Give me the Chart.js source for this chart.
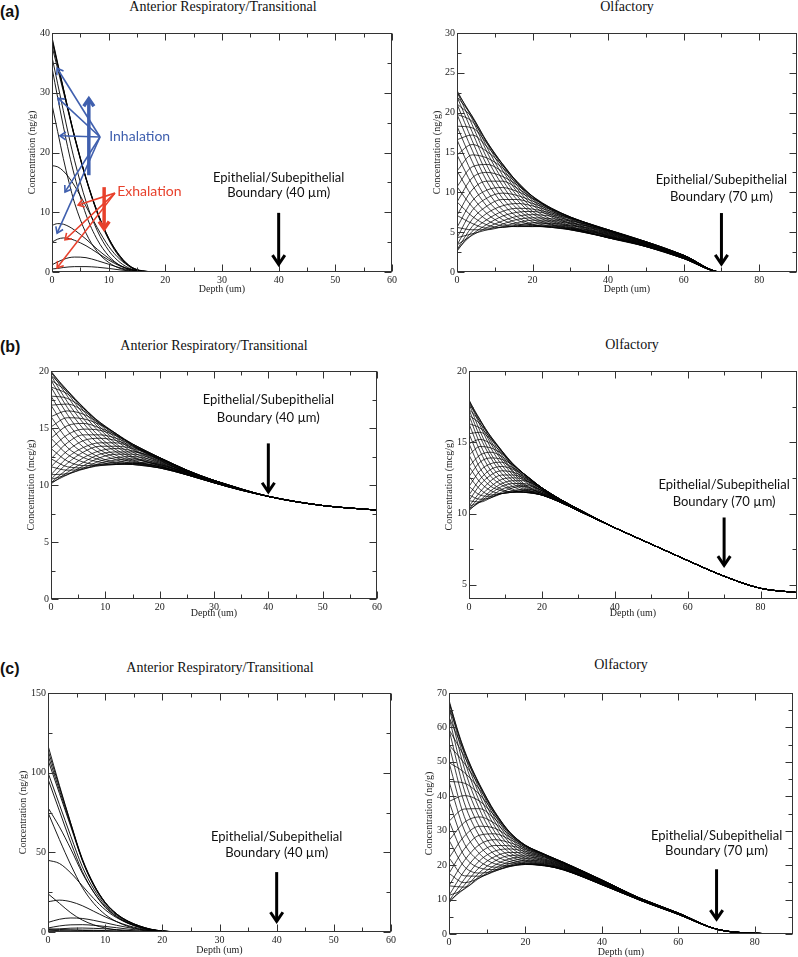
<!DOCTYPE html>
<html>
<head>
<meta charset="utf-8">
<script src="https://cdn.jsdelivr.net/npm/chart.js@4.4.1/dist/chart.umd.min.js"></script>
<style>
  body { margin: 0; width: 798px; height: 957px; overflow: hidden; background: #fff; position: relative; }
  canvas { position: absolute; }
  .ttl { position: absolute; font: 14px "Liberation Serif", serif; color: #111; white-space: nowrap; transform: translate(-50%, -50%); }
  .lbl { position: absolute; left: 0; font: bold 16px "Liberation Sans", Arial, sans-serif; color: #111; transform: translateY(-50%); }
</style>
</head>
<body>
<div class="lbl" style="top:12px">(a)</div>
<div class="lbl" style="top:347px">(b)</div>
<div class="lbl" style="top:669px">(c)</div>
<div class="ttl" style="left:223px;top:7px">Anterior Respiratory/Transitional</div>
<div class="ttl" style="left:627px;top:7px">Olfactory</div>
<div class="ttl" style="left:214px;top:346px">Anterior Respiratory/Transitional</div>
<div class="ttl" style="left:632px;top:345px">Olfactory</div>
<div class="ttl" style="left:220px;top:668px">Anterior Respiratory/Transitional</div>
<div class="ttl" style="left:621px;top:665px">Olfactory</div>
<script>
// depth grids (um) and concentration profiles
const depthRespA = [0, 1, 2, 3, 4, 6, 8, 10, 12, 14, 16, 20, 60];
const concRespA = [
  [39.3, 35.0, 30.8, 26.6, 22.6, 15.6, 9.8, 5.4, 2.4, 0.7, 0.1, 0, 0],
  [38.6, 34.6, 30.6, 26.5, 22.6, 15.7, 10.0, 5.6, 2.6, 0.8, 0.15, 0, 0],
  [37.8, 34.0, 30.2, 26.3, 22.4, 15.6, 10.0, 5.6, 2.6, 0.8, 0.15, 0, 0],
  [39.0, 34.8, 30.7, 26.6, 22.7, 15.8, 10.1, 5.7, 2.7, 0.85, 0.15, 0, 0],
  [36.0, 31.5, 27.0, 22.6, 18.6, 11.8, 6.9, 3.6, 1.6, 0.5, 0.1, 0, 0],
  [34.2, 29.2, 24.4, 19.9, 16.0, 9.6, 5.4, 2.7, 1.1, 0.35, 0.05, 0, 0],
  [28.0, 23.5, 19.0, 15.0, 11.5, 6.5, 3.4, 1.6, 0.6, 0.2, 0, 0, 0],
  [17.8, 17.6, 16.9, 15.8, 14.4, 11.0, 7.4, 4.3, 2.1, 0.8, 0.2, 0, 0],
  [7.8, 8.1, 8.0, 7.6, 7.0, 5.5, 3.8, 2.3, 1.1, 0.4, 0.1, 0, 0],
  [5.0, 5.5, 5.7, 5.6, 5.3, 4.4, 3.2, 2.0, 1.0, 0.4, 0.1, 0, 0],
  [1.2, 1.7, 2.1, 2.4, 2.5, 2.4, 1.9, 1.3, 0.7, 0.3, 0.1, 0, 0],
  [0.5, 0.6, 0.75, 0.85, 0.9, 0.9, 0.8, 0.6, 0.35, 0.15, 0.05, 0, 0]
];

const depthOlfA = [0, 4, 8, 12, 16, 20, 25, 30, 40, 50, 60, 70, 80, 90];
const concOlfA = [
  [22.8, 19.2, 15.0, 11.6, 9.0, 7.3, 6.2, 5.5, 4.3, 3.4, 2.0, 0, 0, 0],
  [22.6, 19.5, 15.6, 12.2, 9.5, 7.6, 6.4, 5.6, 4.3, 3.3, 1.9, 0, 0, 0],
  [22.0, 19.6, 16.1, 12.8, 10.0, 8.0, 6.6, 5.7, 4.3, 3.3, 1.9, 0, 0, 0],
  [21.1, 19.4, 16.3, 13.2, 10.4, 8.4, 6.9, 5.8, 4.3, 3.2, 1.9, 0, 0, 0],
  [19.8, 18.9, 16.3, 13.5, 10.8, 8.7, 7.1, 6.0, 4.4, 3.2, 1.8, 0, 0, 0],
  [18.3, 18.1, 16.1, 13.6, 11.1, 9.0, 7.3, 6.1, 4.5, 3.2, 1.8, 0, 0, 0],
  [16.6, 17.2, 15.7, 13.6, 11.2, 9.2, 7.5, 6.3, 4.5, 3.2, 1.8, 0, 0, 0],
  [14.7, 16.0, 15.1, 13.4, 11.3, 9.4, 7.7, 6.4, 4.6, 3.2, 1.7, 0, 0, 0],
  [12.7, 14.7, 14.3, 13.1, 11.3, 9.5, 7.8, 6.6, 4.7, 3.2, 1.7, 0, 0, 0],
  [10.7, 13.2, 13.5, 12.6, 11.1, 9.5, 7.9, 6.7, 4.8, 3.3, 1.7, 0, 0, 0],
  [8.8, 11.8, 12.5, 12.0, 10.9, 9.5, 8.0, 6.8, 4.9, 3.3, 1.7, 0, 0, 0],
  [7.1, 10.3, 11.4, 11.4, 10.5, 9.3, 8.0, 6.9, 5.0, 3.4, 1.7, 0, 0, 0],
  [5.6, 8.9, 10.3, 10.6, 10.1, 9.2, 8.0, 6.9, 5.1, 3.4, 1.7, 0, 0, 0],
  [4.3, 7.7, 9.3, 9.9, 9.6, 8.9, 7.9, 6.9, 5.2, 3.5, 1.7, 0, 0, 0],
  [3.4, 6.6, 8.3, 9.1, 9.1, 8.6, 7.8, 6.9, 5.2, 3.5, 1.8, 0, 0, 0],
  [2.8, 5.7, 7.4, 8.3, 8.6, 8.3, 7.6, 6.8, 5.3, 3.6, 1.8, 0, 0, 0],
  [2.6, 5.1, 6.6, 7.6, 8.0, 7.9, 7.4, 6.8, 5.3, 3.7, 1.8, 0, 0, 0],
  [2.8, 4.7, 6.0, 7.0, 7.5, 7.6, 7.2, 6.7, 5.3, 3.7, 1.9, 0, 0, 0],
  [3.4, 4.6, 5.6, 6.4, 7.0, 7.2, 7.0, 6.5, 5.3, 3.7, 1.9, 0, 0, 0],
  [4.3, 4.8, 5.3, 6.0, 6.6, 6.8, 6.7, 6.4, 5.3, 3.8, 2.0, 0, 0, 0],
  [5.6, 5.3, 5.3, 5.7, 6.2, 6.5, 6.5, 6.2, 5.2, 3.8, 2.0, 0, 0, 0],
  [7.1, 6.1, 5.5, 5.6, 5.9, 6.2, 6.3, 6.1, 5.2, 3.8, 2.0, 0, 0, 0],
  [8.8, 7.0, 5.9, 5.6, 5.8, 6.0, 6.1, 5.9, 5.1, 3.8, 2.1, 0, 0, 0],
  [10.7, 8.2, 6.5, 5.8, 5.7, 5.8, 5.9, 5.8, 5.0, 3.8, 2.1, 0, 0, 0],
  [12.7, 9.5, 7.3, 6.1, 5.7, 5.7, 5.8, 5.6, 4.9, 3.8, 2.1, 0, 0, 0],
  [14.7, 11.0, 8.2, 6.6, 5.9, 5.7, 5.7, 5.5, 4.8, 3.7, 2.1, 0, 0, 0],
  [16.6, 12.4, 9.1, 7.2, 6.1, 5.8, 5.6, 5.4, 4.7, 3.7, 2.1, 0, 0, 0],
  [18.3, 13.9, 10.2, 7.8, 6.5, 5.9, 5.6, 5.4, 4.6, 3.6, 2.1, 0, 0, 0],
  [19.8, 15.3, 11.3, 8.6, 6.9, 6.0, 5.6, 5.3, 4.5, 3.6, 2.1, 0, 0, 0],
  [21.1, 16.5, 12.3, 9.3, 7.4, 6.3, 5.7, 5.3, 4.4, 3.5, 2.1, 0, 0, 0],
  [22.0, 17.6, 13.3, 10.1, 7.9, 6.6, 5.9, 5.3, 4.4, 3.5, 2.0, 0, 0, 0],
  [22.6, 18.5, 14.2, 10.9, 8.4, 6.9, 6.0, 5.4, 4.3, 3.4, 2.0, 0, 0, 0]
];

const depthRespB = [0, 3, 6, 9, 12, 15, 20, 25, 30, 40, 50, 60];
const concRespB = [
  [20.0, 18.1, 16.2, 14.6, 13.4, 12.5, 11.7, 10.9, 10.2, 9.0, 8.2, 7.8],
  [19.9, 18.3, 16.5, 14.9, 13.6, 12.7, 11.8, 11.0, 10.2, 9.0, 8.2, 7.8],
  [19.6, 18.3, 16.7, 15.1, 13.9, 12.9, 11.9, 11.0, 10.2, 9.0, 8.2, 7.8],
  [19.2, 18.2, 16.8, 15.3, 14.1, 13.1, 12.0, 11.0, 10.2, 9.0, 8.2, 7.8],
  [18.6, 18.0, 16.8, 15.4, 14.3, 13.2, 12.1, 11.1, 10.2, 9.0, 8.2, 7.8],
  [17.8, 17.6, 16.7, 15.5, 14.4, 13.4, 12.2, 11.1, 10.2, 9.0, 8.2, 7.8],
  [17.0, 17.1, 16.5, 15.5, 14.5, 13.5, 12.2, 11.1, 10.3, 9.0, 8.2, 7.8],
  [16.0, 16.5, 16.2, 15.4, 14.5, 13.5, 12.3, 11.2, 10.3, 9.0, 8.2, 7.8],
  [15.1, 15.9, 15.8, 15.3, 14.5, 13.6, 12.3, 11.2, 10.3, 9.0, 8.2, 7.8],
  [14.1, 15.2, 15.4, 15.0, 14.4, 13.6, 12.4, 11.2, 10.3, 9.0, 8.2, 7.8],
  [13.2, 14.4, 14.9, 14.8, 14.3, 13.6, 12.4, 11.3, 10.3, 9.0, 8.2, 7.8],
  [12.3, 13.7, 14.4, 14.4, 14.1, 13.5, 12.4, 11.3, 10.3, 9.0, 8.2, 7.8],
  [11.6, 13.0, 13.9, 14.1, 13.9, 13.4, 12.4, 11.3, 10.4, 9.0, 8.2, 7.8],
  [10.9, 12.4, 13.3, 13.7, 13.7, 13.3, 12.4, 11.3, 10.4, 9.0, 8.2, 7.8],
  [10.5, 11.9, 12.9, 13.4, 13.4, 13.2, 12.3, 11.3, 10.4, 9.0, 8.2, 7.8],
  [10.2, 11.4, 12.4, 13.0, 13.2, 13.0, 12.3, 11.3, 10.4, 9.0, 8.2, 7.8],
  [10.1, 11.1, 12.0, 12.7, 12.9, 12.9, 12.2, 11.3, 10.4, 9.0, 8.2, 7.8],
  [10.2, 10.9, 11.7, 12.4, 12.7, 12.7, 12.1, 11.2, 10.4, 9.0, 8.2, 7.8],
  [10.5, 10.9, 11.5, 12.1, 12.4, 12.5, 12.0, 11.2, 10.4, 9.0, 8.2, 7.8],
  [10.9, 11.0, 11.4, 11.9, 12.2, 12.3, 11.9, 11.2, 10.4, 9.0, 8.2, 7.8],
  [11.6, 11.3, 11.4, 11.8, 12.0, 12.2, 11.8, 11.1, 10.4, 9.0, 8.2, 7.8],
  [12.3, 11.6, 11.5, 11.7, 11.9, 12.0, 11.8, 11.1, 10.4, 9.0, 8.2, 7.8],
  [13.2, 12.1, 11.7, 11.7, 11.8, 11.9, 11.7, 11.1, 10.4, 9.0, 8.2, 7.8],
  [14.1, 12.7, 12.0, 11.8, 11.8, 11.9, 11.6, 11.0, 10.3, 9.0, 8.2, 7.8],
  [15.1, 13.3, 12.4, 12.0, 11.8, 11.8, 11.6, 11.0, 10.3, 9.0, 8.2, 7.8],
  [16.0, 14.0, 12.8, 12.2, 11.9, 11.8, 11.5, 11.0, 10.3, 9.0, 8.2, 7.8],
  [17.0, 14.8, 13.3, 12.4, 12.0, 11.8, 11.5, 10.9, 10.3, 9.0, 8.2, 7.8],
  [17.8, 15.5, 13.8, 12.8, 12.2, 11.9, 11.5, 10.9, 10.3, 9.0, 8.2, 7.8],
  [18.6, 16.2, 14.3, 13.1, 12.4, 12.0, 11.5, 10.9, 10.2, 9.0, 8.2, 7.8],
  [19.2, 16.8, 14.9, 13.5, 12.6, 12.1, 11.6, 10.9, 10.2, 9.0, 8.2, 7.8],
  [19.6, 17.3, 15.4, 13.9, 12.9, 12.2, 11.6, 10.9, 10.2, 9.0, 8.2, 7.8],
  [19.9, 17.8, 15.8, 14.2, 13.1, 12.4, 11.7, 10.9, 10.2, 9.0, 8.2, 7.8]
];

const depthOlfB = [0, 3, 6, 9, 12, 15, 20, 25, 30, 40, 50, 60, 70, 80, 90];
const concOlfB = [
  [18.0, 16.4, 14.9, 13.7, 12.7, 12.0, 11.4, 10.8, 10.2, 9.0, 7.85, 6.7, 5.6, 4.75, 4.45],
  [17.9, 16.6, 15.1, 13.9, 12.9, 12.1, 11.4, 10.8, 10.2, 9.0, 7.85, 6.7, 5.6, 4.75, 4.45],
  [17.7, 16.6, 15.3, 14.1, 13.0, 12.3, 11.5, 10.9, 10.2, 9.0, 7.85, 6.7, 5.6, 4.75, 4.45],
  [17.3, 16.5, 15.4, 14.3, 13.2, 12.4, 11.6, 10.9, 10.2, 9.0, 7.85, 6.7, 5.6, 4.75, 4.45],
  [16.9, 16.3, 15.4, 14.4, 13.3, 12.5, 11.6, 10.9, 10.2, 9.0, 7.85, 6.7, 5.6, 4.75, 4.45],
  [16.3, 16.0, 15.3, 14.4, 13.4, 12.6, 11.7, 10.9, 10.2, 9.0, 7.85, 6.7, 5.6, 4.75, 4.45],
  [15.6, 15.7, 15.2, 14.4, 13.5, 12.7, 11.7, 10.9, 10.2, 9.0, 7.85, 6.7, 5.6, 4.75, 4.45],
  [14.9, 15.2, 14.9, 14.3, 13.5, 12.8, 11.7, 10.9, 10.2, 9.0, 7.85, 6.7, 5.6, 4.75, 4.45],
  [14.1, 14.7, 14.6, 14.2, 13.5, 12.8, 11.8, 11.0, 10.3, 9.0, 7.85, 6.7, 5.6, 4.75, 4.45],
  [13.3, 14.1, 14.3, 14.0, 13.4, 12.8, 11.8, 11.0, 10.3, 9.0, 7.85, 6.7, 5.6, 4.75, 4.45],
  [12.6, 13.6, 13.9, 13.8, 13.4, 12.8, 11.8, 11.0, 10.3, 9.0, 7.85, 6.7, 5.6, 4.75, 4.45],
  [11.9, 13.0, 13.5, 13.6, 13.2, 12.8, 11.8, 11.0, 10.3, 9.0, 7.85, 6.7, 5.6, 4.75, 4.45],
  [11.3, 12.4, 13.1, 13.3, 13.1, 12.7, 11.8, 11.0, 10.3, 9.0, 7.85, 6.7, 5.6, 4.75, 4.45],
  [10.9, 12.0, 12.7, 13.0, 12.9, 12.6, 11.8, 11.0, 10.3, 9.0, 7.85, 6.7, 5.6, 4.75, 4.45],
  [10.5, 11.5, 12.3, 12.7, 12.7, 12.5, 11.8, 11.0, 10.3, 9.0, 7.85, 6.7, 5.6, 4.75, 4.45],
  [10.3, 11.2, 11.9, 12.4, 12.5, 12.4, 11.7, 11.0, 10.3, 9.0, 7.85, 6.7, 5.6, 4.75, 4.45],
  [10.2, 10.9, 11.6, 12.1, 12.3, 12.3, 11.7, 11.0, 10.3, 9.0, 7.85, 6.7, 5.6, 4.75, 4.45],
  [10.3, 10.8, 11.4, 11.9, 12.1, 12.1, 11.6, 11.0, 10.3, 9.0, 7.85, 6.7, 5.6, 4.75, 4.45],
  [10.5, 10.8, 11.2, 11.7, 11.9, 12.0, 11.6, 11.0, 10.3, 9.0, 7.85, 6.7, 5.6, 4.75, 4.45],
  [10.9, 10.8, 11.1, 11.5, 11.8, 11.9, 11.5, 10.9, 10.3, 9.0, 7.85, 6.7, 5.6, 4.75, 4.45],
  [11.3, 11.0, 11.1, 11.4, 11.6, 11.7, 11.5, 10.9, 10.3, 9.0, 7.85, 6.7, 5.6, 4.75, 4.45],
  [11.9, 11.3, 11.2, 11.4, 11.5, 11.6, 11.4, 10.9, 10.3, 9.0, 7.85, 6.7, 5.6, 4.75, 4.45],
  [12.6, 11.7, 11.3, 11.4, 11.5, 11.6, 11.4, 10.9, 10.3, 9.0, 7.85, 6.7, 5.6, 4.75, 4.45],
  [13.3, 12.2, 11.6, 11.4, 11.5, 11.5, 11.3, 10.9, 10.3, 9.0, 7.85, 6.7, 5.6, 4.75, 4.45],
  [14.1, 12.7, 11.9, 11.6, 11.5, 11.5, 11.3, 10.8, 10.2, 9.0, 7.85, 6.7, 5.6, 4.75, 4.45],
  [14.9, 13.2, 12.2, 11.7, 11.5, 11.5, 11.3, 10.8, 10.2, 9.0, 7.85, 6.7, 5.6, 4.75, 4.45],
  [15.6, 13.8, 12.6, 12.0, 11.6, 11.5, 11.3, 10.8, 10.2, 9.0, 7.85, 6.7, 5.6, 4.75, 4.45],
  [16.3, 14.4, 13.0, 12.2, 11.7, 11.5, 11.3, 10.8, 10.2, 9.0, 7.85, 6.7, 5.6, 4.75, 4.45],
  [16.9, 14.9, 13.4, 12.5, 11.9, 11.6, 11.3, 10.8, 10.2, 9.0, 7.85, 6.7, 5.6, 4.75, 4.45],
  [17.3, 15.4, 13.9, 12.8, 12.1, 11.7, 11.3, 10.8, 10.2, 9.0, 7.85, 6.7, 5.6, 4.75, 4.45],
  [17.7, 15.8, 14.2, 13.1, 12.3, 11.8, 11.3, 10.8, 10.2, 9.0, 7.85, 6.7, 5.6, 4.75, 4.45],
  [17.9, 16.2, 14.6, 13.4, 12.5, 11.9, 11.4, 10.8, 10.2, 9.0, 7.85, 6.7, 5.6, 4.75, 4.45]
];

const depthRespC = [0, 2, 4, 6, 8, 10, 12, 14, 16, 18, 20, 22, 25, 60];
const concRespC = [
  [117, 92, 68, 45, 29, 18, 11, 6.5, 3.6, 1.6, 0.6, 0.2, 0, 0],
  [114, 91, 68, 46, 30, 18.6, 11.4, 6.8, 3.8, 1.7, 0.65, 0.22, 0, 0],
  [111, 89, 67, 45.5, 29.8, 18.6, 11.4, 6.8, 3.8, 1.7, 0.65, 0.22, 0, 0],
  [108, 87, 66, 45, 29.5, 18.4, 11.3, 6.7, 3.7, 1.7, 0.65, 0.2, 0, 0],
  [100, 80, 60, 41, 27, 17, 10.5, 6.0, 3.3, 1.5, 0.6, 0.2, 0, 0],
  [96, 76, 56, 38, 25, 15.5, 9.5, 5.4, 3.0, 1.3, 0.5, 0.15, 0, 0],
  [78, 66, 52, 37, 25, 16, 9.8, 5.7, 3.1, 1.4, 0.5, 0.15, 0, 0],
  [75, 58, 42, 28, 18, 11, 6.5, 3.5, 1.8, 0.8, 0.3, 0.1, 0, 0],
  [45, 43, 37, 29, 21, 14, 9, 5.5, 3, 1.4, 0.5, 0.15, 0, 0],
  [24, 18, 12, 7.5, 4.5, 2.5, 1.3, 0.6, 0.25, 0.1, 0, 0, 0, 0],
  [19, 20, 19, 16.5, 13, 9.5, 6.5, 4, 2.3, 1.1, 0.4, 0.1, 0, 0],
  [6, 8, 8.8, 8.5, 7.3, 5.8, 4.2, 2.8, 1.6, 0.8, 0.3, 0.1, 0, 0],
  [2.5, 3.8, 4.5, 4.6, 4.2, 3.5, 2.7, 1.8, 1.1, 0.6, 0.25, 0.1, 0, 0],
  [2.0, 1.6, 1.3, 1.0, 0.8, 0.6, 0.4, 0.3, 0.2, 0.1, 0, 0, 0, 0],
  [1.5, 2.0, 2.4, 2.5, 2.3, 2.0, 1.5, 1.0, 0.6, 0.3, 0.1, 0, 0, 0],
  [0.8, 1.0, 1.2, 1.2, 1.1, 0.9, 0.7, 0.5, 0.3, 0.15, 0.05, 0, 0, 0],
  [0.3, 0.4, 0.5, 0.5, 0.5, 0.4, 0.3, 0.2, 0.1, 0.05, 0, 0, 0, 0]
];

const depthOlfC = [0, 4, 8, 12, 16, 20, 25, 30, 40, 50, 60, 70, 80, 90];
const concOlfC = [
  [68.0, 52.3, 40.3, 31.2, 25.4, 22.5, 20.7, 18.8, 14.3, 10.0, 6.0, 1.4, 0.2, 0],
  [67.4, 53.3, 41.8, 32.6, 26.3, 23.1, 21.0, 18.9, 14.3, 9.9, 5.9, 1.4, 0.2, 0],
  [65.8, 53.5, 42.9, 33.7, 27.2, 23.6, 21.3, 19.1, 14.3, 9.9, 5.9, 1.4, 0.2, 0],
  [63.0, 52.9, 43.4, 34.6, 28.0, 24.1, 21.6, 19.3, 14.4, 9.8, 5.9, 1.4, 0.2, 0],
  [59.4, 51.6, 43.5, 35.2, 28.6, 24.6, 21.9, 19.5, 14.4, 9.8, 5.8, 1.4, 0.2, 0],
  [54.9, 49.6, 43.0, 35.5, 29.1, 25.0, 22.3, 19.7, 14.5, 9.8, 5.8, 1.4, 0.2, 0],
  [49.8, 46.9, 42.0, 35.4, 29.4, 25.4, 22.5, 19.9, 14.6, 9.8, 5.8, 1.4, 0.2, 0],
  [44.3, 43.8, 40.5, 35.0, 29.5, 25.6, 22.8, 20.1, 14.8, 9.8, 5.7, 1.4, 0.2, 0],
  [38.5, 40.2, 38.6, 34.3, 29.4, 25.8, 23.0, 20.3, 14.9, 9.8, 5.7, 1.4, 0.2, 0],
  [32.8, 36.3, 36.4, 33.4, 29.2, 25.8, 23.1, 20.5, 15.0, 9.9, 5.7, 1.4, 0.2, 0],
  [27.2, 32.4, 34.0, 32.1, 28.7, 25.7, 23.2, 20.6, 15.2, 9.9, 5.7, 1.4, 0.2, 0],
  [22.1, 28.4, 31.3, 30.7, 28.1, 25.6, 23.2, 20.7, 15.3, 10.0, 5.7, 1.4, 0.2, 0],
  [17.6, 24.7, 28.7, 29.1, 27.4, 25.3, 23.1, 20.8, 15.4, 10.0, 5.7, 1.4, 0.2, 0],
  [14.0, 21.3, 26.0, 27.4, 26.5, 24.9, 23.0, 20.8, 15.5, 10.1, 5.7, 1.4, 0.2, 0],
  [11.2, 18.3, 23.5, 25.7, 25.6, 24.5, 22.9, 20.8, 15.6, 10.1, 5.8, 1.4, 0.2, 0],
  [9.6, 15.9, 21.3, 24.1, 24.7, 24.0, 22.6, 20.7, 15.7, 10.2, 5.8, 1.4, 0.2, 0],
  [9.0, 14.2, 19.4, 22.5, 23.7, 23.5, 22.4, 20.6, 15.7, 10.3, 5.8, 1.4, 0.2, 0],
  [9.6, 13.2, 17.9, 21.2, 22.8, 22.9, 22.1, 20.5, 15.7, 10.3, 5.9, 1.4, 0.2, 0],
  [11.2, 13.0, 16.8, 20.0, 21.9, 22.4, 21.7, 20.3, 15.7, 10.3, 5.9, 1.4, 0.2, 0],
  [14.0, 13.6, 16.3, 19.1, 21.1, 21.9, 21.4, 20.1, 15.6, 10.4, 6.0, 1.4, 0.2, 0],
  [17.6, 14.9, 16.3, 18.5, 20.5, 21.4, 21.1, 19.9, 15.6, 10.4, 6.0, 1.4, 0.2, 0],
  [22.1, 16.9, 16.8, 18.2, 20.0, 21.0, 20.8, 19.7, 15.5, 10.4, 6.0, 1.4, 0.2, 0],
  [27.2, 19.6, 17.7, 18.3, 19.7, 20.6, 20.5, 19.5, 15.4, 10.4, 6.1, 1.4, 0.2, 0],
  [32.8, 22.7, 19.2, 18.7, 19.6, 20.4, 20.2, 19.3, 15.3, 10.4, 6.1, 1.4, 0.2, 0],
  [38.5, 26.3, 21.1, 19.4, 19.7, 20.2, 20.0, 19.1, 15.1, 10.4, 6.1, 1.4, 0.2, 0],
  [44.3, 30.2, 23.3, 20.4, 19.9, 20.2, 19.9, 18.9, 15.0, 10.3, 6.1, 1.4, 0.2, 0],
  [49.8, 34.1, 25.7, 21.6, 20.4, 20.3, 19.8, 18.8, 14.9, 10.3, 6.1, 1.4, 0.2, 0],
  [54.9, 38.1, 28.4, 23.0, 21.0, 20.4, 19.8, 18.7, 14.7, 10.2, 6.1, 1.4, 0.2, 0],
  [59.4, 41.8, 31.0, 24.6, 21.7, 20.7, 19.9, 18.6, 14.6, 10.2, 6.1, 1.4, 0.2, 0],
  [63.0, 45.2, 33.7, 26.3, 22.6, 21.1, 20.0, 18.6, 14.5, 10.1, 6.1, 1.4, 0.2, 0],
  [65.8, 48.2, 36.2, 28.0, 23.5, 21.5, 20.2, 18.6, 14.4, 10.1, 6.0, 1.4, 0.2, 0],
  [67.4, 50.6, 38.4, 29.6, 24.4, 22.0, 20.4, 18.7, 14.4, 10.0, 6.0, 1.4, 0.2, 0]
];

// tick labels
const xTicks60 = [0, 10, 20, 30, 40, 50, 60];
const xTicks90 = [0, 20, 40, 60, 80];
const yTicksRespA = [0, 10, 20, 30, 40];
const yTicksOlfA = [0, 5, 10, 15, 20, 25, 30];
const yTicksRespB = [0, 5, 10, 15, 20];
const yTicksOlfB = [5, 10, 15, 20];
const yTicksRespC = [0, 50, 100, 150];
const yTicksOlfC = [0, 10, 20, 30, 40, 50, 60, 70];

const BLUE = "#3f5fae";
const RED = "#e8412c";
const serif = '"Liberation Serif", "Times New Roman", serif';
const sans = 'Lato, "Open Sans", sans-serif';

function drawArrow(ctx, x0, y0, x1, y1, w, h, color) {
  const ang = Math.atan2(y1 - y0, x1 - x0);
  ctx.strokeStyle = color;
  ctx.lineWidth = w;
  ctx.lineCap = "butt";
  ctx.lineJoin = "miter";
  ctx.beginPath();
  ctx.moveTo(x0, y0);
  ctx.lineTo(x1, y1);
  ctx.stroke();
  ctx.beginPath();
  ctx.moveTo(x1 - h * Math.cos(ang - 0.6), y1 - h * Math.sin(ang - 0.6));
  ctx.lineTo(x1, y1);
  ctx.lineTo(x1 - h * Math.cos(ang + 0.6), y1 - h * Math.sin(ang + 0.6));
  ctx.stroke();
}

function mids(arr) {
  const out = [];
  for (let i = 1; i < arr.length; i++) out.push((arr[i - 1] + arr[i]) / 2);
  return out;
}

// frame box, inward ticks on all four sides, annotations
const framePlugin = {
  id: "frame",
  afterDatasetsDraw(chart, args, opts) {
    const { ctx, chartArea: a, scales: { x, y } } = chart;
    ctx.save();
    ctx.strokeStyle = "#333";
    ctx.lineWidth = 1;
    const L = Math.round(a.left) + 0.5, R = Math.round(a.right) - 0.5;
    const T = Math.round(a.top) + 0.5, B = Math.round(a.bottom) - 0.5;
    ctx.strokeRect(L, T, R - L, B - T);
    const seg = (x0, y0, x1, y1) => { ctx.beginPath(); ctx.moveTo(x0, y0); ctx.lineTo(x1, y1); ctx.stroke(); };
    const ticks = (scale, vals, len) => vals.forEach((v) => {
      const p = Math.round(scale.getPixelForValue(v)) + 0.5;
      if (scale.isHorizontal()) { seg(p, B, p, B - len); seg(p, T, p, T + len); }
      else { seg(L, p, L + len, p); seg(R, p, R - len, p); }
    });
    ticks(x, opts.xMajor, 7);
    ticks(x, mids(opts.xMajor), 4);
    ticks(y, opts.yMajor, 7);
    ticks(y, mids(opts.yMajor), 4);

    const X = (v) => x.getPixelForValue(v), Y = (v) => y.getPixelForValue(v);
    const b = opts.boundary;
    drawArrow(ctx, X(b.x), Y(b.top), X(b.x), Y(b.tip), 3, 11, "#000");
    ctx.fillStyle = "#111";
    ctx.font = "13px " + sans;
    ctx.textAlign = "center";
    ctx.textBaseline = "middle";
    ctx.fillText("Epithelial/Subepithelial", X(b.x), Y(b.line1));
    ctx.fillText(b.label, X(b.x), Y(b.line2));

    (opts.arrows || []).forEach((ar) => {
      drawArrow(ctx, X(ar.from[0]), Y(ar.from[1]), X(ar.to[0]), Y(ar.to[1]), ar.w, ar.h, ar.color);
    });
    (opts.notes || []).forEach((n) => {
      ctx.fillStyle = n.color;
      ctx.font = "14px " + sans;
      ctx.textAlign = "left";
      ctx.fillText(n.text, X(n.x), Y(n.y));
    });
    ctx.restore();
  }
};

const fanIn = [[0.9, 34.1], [1.06, 29.1], [1.4, 22.8], [2.3, 13.4], [0.9, 6.5]];
const fanOut = [[4.6, 11.2], [2.3, 5.4], [0.9, 0.7]];

const panels = [
  { box: [52, 33, 392, 272], yw: 26, xh: 23, depth: depthRespA, conc: concRespA, lw: 0.9,
    xMax: 60, yMin: 0, yMax: 40, xTicks: xTicks60, yTicks: yTicksRespA, unit: "Concentration (ng/g)",
    boundary: { x: 40, top: 9.9, tip: 1.3, line1: 15.7, line2: 13.2, label: "Boundary (40 µm)" },
    arrows: [
      ...fanIn.map((p) => ({ from: [8.47, 22.6], to: p, w: 1.6, h: 7, color: BLUE })),
      { from: [6.5, 16.2], to: [6.5, 29.0], w: 3.5, h: 9, color: BLUE },
      ...fanOut.map((p) => ({ from: [11.1, 13.2], to: p, w: 1.6, h: 7, color: RED })),
      { from: [9.2, 14.2], to: [9.2, 7.2], w: 3.5, h: 9, color: RED }
    ],
    notes: [
      { text: "Inhalation", x: 10.1, y: 22.6, color: BLUE },
      { text: "Exhalation", x: 11.5, y: 13.4, color: RED }
    ] },
  { box: [457, 33, 797, 272], yw: 26, xh: 23, depth: depthOlfA, conc: concOlfA, lw: 0.75,
    xMax: 90, yMin: 0, yMax: 30, xTicks: xTicks90, yTicks: yTicksOlfA, unit: "Concentration (ng/g)",
    boundary: { x: 70, top: 7.4, tip: 1.0, line1: 11.6, line2: 9.5, label: "Boundary (70 µm)" } },
  { box: [51, 371, 377, 599], yw: 26, xh: 20, depth: depthRespB, conc: concRespB, lw: 0.75,
    xMax: 60, yMin: 0, yMax: 20, xTicks: xTicks60, yTicks: yTicksRespB, unit: "Concentration (mcg/g)",
    boundary: { x: 40, top: 13.65, tip: 9.4, line1: 17.45, line2: 15.9, label: "Boundary (40 µm)" } },
  { box: [469, 371, 797, 599], yw: 26, xh: 20, depth: depthOlfB, conc: concOlfB, lw: 0.75,
    xMax: 90, yMin: 4, yMax: 20, xTicks: xTicks90, yTicks: yTicksOlfB, unit: "Concentration (mcg/g)",
    boundary: { x: 70, top: 9.72, tip: 6.37, line1: 11.99, line2: 10.82, label: "Boundary (70 µm)" } },
  { box: [48, 693, 391, 932], yw: 31, xh: 24, depth: depthRespC, conc: concRespC, lw: 0.9,
    xMax: 60, yMin: 0, yMax: 150, xTicks: xTicks60, yTicks: yTicksRespC, unit: "Concentration (ng/g)",
    boundary: { x: 40, top: 37.6, tip: 6.7, line1: 59.5, line2: 49.9, label: "Boundary (40 µm)" } },
  { box: [449, 693, 793, 934], yw: 26, xh: 24, depth: depthOlfC, conc: concOlfC, lw: 0.75,
    xMax: 90, yMin: 0, yMax: 70, xTicks: xTicks90, yTicks: yTicksOlfC, unit: "Concentration (ng/g)",
    boundary: { x: 70, top: 18.8, tip: 4.3, line1: 28.5, line2: 24.2, label: "Boundary (70 µm)" } }
];

const tickFont = { family: serif, size: 10 };
const titleFont = { family: serif, size: 10 };

panels.forEach((p) => {
  const [l, t, r, btm] = p.box;
  const w = p.yw + (r - l) + 8, h = 8 + (btm - t) + p.xh;
  const cv = document.createElement("canvas");
  cv.width = w; cv.height = h;
  cv.style.left = (l - p.yw) + "px";
  cv.style.top = (t - 8) + "px";
  cv.style.width = w + "px";
  cv.style.height = h + "px";
  document.body.appendChild(cv);

  const datasets = p.conc.map((vals) => ({
    data: vals.map((v, i) => ({ x: p.depth[i], y: v })),
    borderColor: "#000",
    borderWidth: p.lw,
    pointRadius: 0,
    fill: false,
    cubicInterpolationMode: "monotone"
  }));

  new Chart(cv, {
    type: "line",
    data: { datasets },
    options: {
      responsive: false,
      animation: false,
      devicePixelRatio: 1,
      layout: { padding: { top: 8, right: 8, left: 0, bottom: 0 } },
      plugins: {
        legend: { display: false },
        tooltip: { enabled: false },
        frame: { xMajor: p.xTicks, yMajor: p.yTicks, boundary: p.boundary, arrows: p.arrows, notes: p.notes }
      },
      scales: {
        x: {
          type: "linear", min: 0, max: p.xMax,
          afterBuildTicks: (s) => { s.ticks = p.xTicks.map((v) => ({ value: v })); },
          afterFit: (s) => { s.height = p.xh; },
          grid: { display: false, drawTicks: false },
          border: { display: false },
          ticks: { padding: 2, color: "#222", font: tickFont, maxRotation: 0, autoSkip: false },
          title: { display: true, text: "Depth (um)", color: "#222", font: titleFont, padding: 0 }
        },
        y: {
          type: "linear", min: p.yMin, max: p.yMax,
          afterBuildTicks: (s) => { s.ticks = p.yTicks.map((v) => ({ value: v })); },
          afterFit: (s) => { s.width = p.yw; },
          grid: { display: false, drawTicks: false },
          border: { display: false },
          ticks: { padding: 2, color: "#222", font: tickFont, autoSkip: false },
          title: { display: true, text: p.unit, color: "#222", font: titleFont, padding: 0 }
        }
      }
    },
    plugins: [framePlugin]
  });
});
</script>
</body>
</html>
